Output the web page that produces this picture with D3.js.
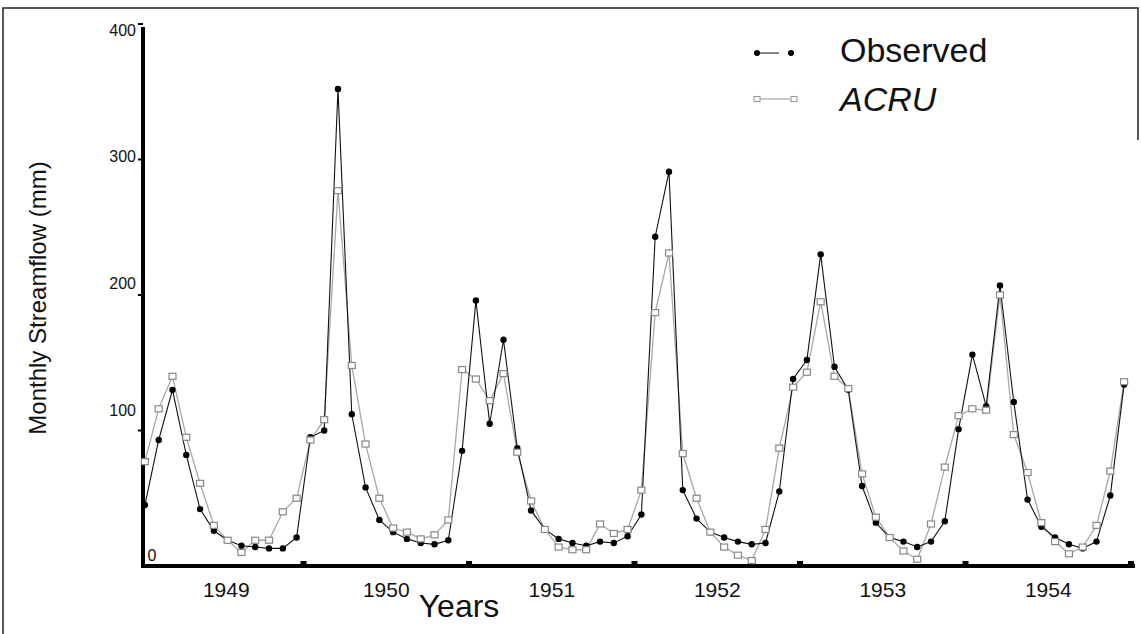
<!DOCTYPE html>
<html><head><meta charset="utf-8">
<script src="https://cdn.jsdelivr.net/npm/d3@7"></script>
<style>body{margin:0;background:#fff}svg{display:block}</style>
</head><body>
<svg id="c" width="1141" height="634"></svg>
<script>
// ---- data ----
const years = ["1949", "1950", "1951", "1952", "1953", "1954"];
const yTicks = [0, 100, 200, 300, 400];
const seriesNames = ["Observed", "ACRU"];
const observed = [45, 93, 130, 82, 42, 26, 19, 15, 14, 13, 13, 21,
  95, 100, 352, 112, 58, 34, 25, 20, 17, 16, 19, 85,
  196, 105, 167, 87, 41, 27, 20, 17, 15, 18, 17, 22,
  38, 243, 291, 56, 35, 25, 21, 18, 16, 17, 55, 138,
  152, 230, 147, 130, 59, 32, 21, 18, 14, 18, 33, 101,
  156, 118, 207, 121, 49, 29, 21, 16, 13, 18, 52, 134];
const acru = [77, 116, 140, 95, 61, 30, 19, 10, 19, 19, 40, 50,
  93, 108, 277, 148, 90, 50, 28, 25, 20, 23, 34, 145,
  138, 122, 142, 84, 48, 27, 14, 12, 12, 31, 24, 27,
  56, 187, 231, 83, 50, 25, 14, 8, 4, 27, 87, 132,
  143, 195, 140, 131, 68, 36, 21, 11, 5, 31, 73, 111,
  116, 115, 200, 97, 69, 32, 18, 9, 14, 30, 70, 136];

// ---- layout ----
const svg = d3.select("#c");
const font = "'Liberation Sans', Arial, sans-serif";
const x = d3.scaleLinear().domain([-0.5, observed.length - 0.5]).range([138, 1131]);
const y = d3.scaleLinear().domain([0, 400]).range([566, 24]);
const yLab = d3.scaleLinear().domain([0, 100, 400]).range([555, 410, 30]);

// frame
svg.append("path").attr("d", "M3,634 L3,8 L1138,8 L1138,140")
  .attr("fill", "none").attr("stroke", "#222").attr("stroke-width", 1.5);

// axes lines
svg.append("line").attr("x1", 143).attr("x2", 143).attr("y1", 27).attr("y2", 568)
  .attr("stroke", "#000").attr("stroke-width", 4);
svg.append("line").attr("x1", 141).attr("x2", 1135).attr("y1", 566).attr("y2", 566)
  .attr("stroke", "#000").attr("stroke-width", 4);

// y ticks
svg.selectAll(".yt").data(yTicks.filter(d => d > 0)).enter().append("line")
  .attr("x1", 138).attr("x2", 143).attr("y1", d => y(d)).attr("y2", d => y(d))
  .attr("stroke", "#000").attr("stroke-width", 2);
svg.selectAll(".yl").data(yTicks).enter().append("text")
  .attr("x", d => d === 0 ? 152 : 136)
  .attr("y", d => yLab(d))
  .attr("dy", "0.35em")
  .attr("text-anchor", d => d === 0 ? "middle" : "end")
  .attr("font-family", font).attr("font-size", 16).attr("fill", "#111")
  .text(d => d);

// x ticks (year boundaries)
const bounds = years.map((d, i) => 11.5 + 12 * i);
svg.selectAll(".xt").data(bounds).enter().append("rect")
  .attr("x", d => x(d) - 3).attr("y", 561).attr("width", 6).attr("height", 7)
  .attr("fill", "#000");
svg.selectAll(".xl").data(years).enter().append("text")
  .attr("x", (d, i) => ((i === 0 ? 143 : x(bounds[i - 1])) + x(bounds[i])) / 2 + (i === 0 ? 3 : 0))
  .attr("y", 597)
  .attr("text-anchor", "middle")
  .attr("font-family", font).attr("font-size", 21).attr("fill", "#111")
  .text(d => d);

// axis titles
svg.append("text").attr("x", 459).attr("y", 617).attr("text-anchor", "middle")
  .attr("font-family", font).attr("font-size", 32).attr("fill", "#111").text("Years");
svg.append("text").attr("transform", "translate(46,298) rotate(-90)")
  .attr("text-anchor", "middle")
  .attr("font-family", font).attr("font-size", 24).attr("fill", "#111")
  .text("Monthly Streamflow (mm)");

// series lines
const line = d3.line().x((d, i) => x(i)).y(d => y(d));
svg.append("path").datum(acru).attr("d", line)
  .attr("fill", "none").attr("stroke", "#a8a8a8").attr("stroke-width", 1.3);
svg.append("path").datum(observed).attr("d", line)
  .attr("fill", "none").attr("stroke", "#111").attr("stroke-width", 1.1);

// markers
svg.selectAll(".ob").data(observed).enter().append("circle")
  .attr("cx", (d, i) => x(i)).attr("cy", d => y(d)).attr("r", 3.2).attr("fill", "#000");
svg.selectAll(".ac").data(acru).enter().append("rect")
  .attr("x", (d, i) => x(i) - 3.5).attr("y", d => y(d) - 3).attr("width", 7).attr("height", 6)
  .attr("fill", "#fff").attr("stroke", "#888").attr("stroke-width", 1.2);

// legend
const lg = svg.append("g");
lg.append("line").attr("x1", 757).attr("x2", 779).attr("y1", 53).attr("y2", 53)
  .attr("stroke", "#222").attr("stroke-width", 1.1);
lg.selectAll(".lo").data([757, 791]).enter().append("circle")
  .attr("cx", d => d).attr("cy", 53).attr("r", 3).attr("fill", "#000");
lg.append("line").attr("x1", 760).attr("x2", 790).attr("y1", 99).attr("y2", 99)
  .attr("stroke", "#a8a8a8").attr("stroke-width", 1.2);
lg.selectAll(".la").data([757, 794]).enter().append("rect")
  .attr("x", d => d - 3).attr("y", 96.5).attr("width", 6).attr("height", 5)
  .attr("fill", "#fff").attr("stroke", "#999").attr("stroke-width", 1.1);
lg.selectAll(".lt").data(seriesNames).enter().append("text")
  .attr("x", 840).attr("y", (d, i) => 62 + i * 49)
  .attr("font-family", font).attr("font-size", 34)
  .attr("font-style", (d, i) => i === 1 ? "italic" : "normal")
  .attr("fill", "#111").text(d => d);
</script>
</body></html>
